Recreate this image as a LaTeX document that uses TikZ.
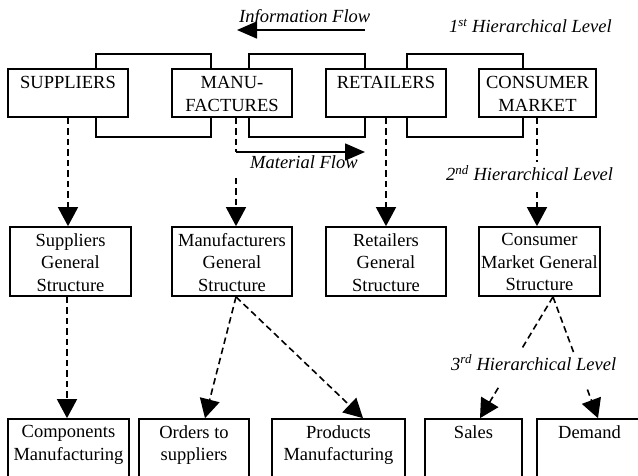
\documentclass[tikz,border=0pt]{standalone}
\usepackage{fontspec}
\setmainfont{Liberation Serif}
\usetikzlibrary{arrows.meta,fit,calc}

\begin{document}
\begin{tikzpicture}[x=1pt,y=-1pt,
  box/.style={draw, line width=1.7pt, fill=white, inner sep=0pt},
  boxtext/.style={anchor=north, align=center, inner sep=0pt,
    font=\fontsize{18.5}{22.5}\selectfont},
  frame/.style={draw, line width=1.7pt},
  lead/.style={line width=1.6pt, dash pattern=on 6.5pt off 4pt},
  tip/.style={-{Triangle[length=19pt,width=20pt]}},
  flow/.style={line width=1.6pt, -{Triangle[length=20pt,width=17pt]}},
  note/.style={anchor=base west, inner sep=0pt,
    font=\fontsize{18.5}{22}\selectfont\itshape}]
\useasboundingbox (0,0) rectangle (638,476);
\clip (0,0) rectangle (638,476);

% links between the first-level blocks
\draw[frame] (96,54) rectangle (211,137);
\draw[frame] (249,54) rectangle (365,137);
\draw[frame] (407,54) rectangle (523,137);

% first hierarchical level
\node[box, fit={(8,69)(128,117)}] (sup) {};
\node[box, fit={(172,69)(292,117)}] (man) {};
\node[box, fit={(326,69)(446,117)}] (ret) {};
\node[box, fit={(479,69)(596,117)}] (con) {};
\node[boxtext] (supT) at ([yshift=-8pt]sup.north) {SUPPLIERS};
\node[boxtext] (manT) at ([yshift=-8pt]man.north) {MANU-\\FACTURES};
\node[boxtext] (retT) at ([yshift=-8pt]ret.north) {RETAILERS};
\node[boxtext] (conT) at ([yshift=-8pt]con.north) {CONSUMER\\MARKET};

% second hierarchical level
\node[box, fit={(10,227)(131,296)}] (sgs) {};
\node[box, fit={(172,227)(292,296)}] (mgs) {};
\node[box, fit={(326,227)(446,296)}] (rgs) {};
\node[box, fit={(479,227)(600,296)}] (cgs) {};
\node[boxtext] (sgsT) at ([yshift=-7pt]sgs.north) {Suppliers\\General\\Structure};
\node[boxtext] (mgsT) at ([yshift=-7pt]mgs.north) {Manufacturers\\General\\Structure};
\node[boxtext] (rgsT) at ([yshift=-7pt]rgs.north) {Retailers\\General\\Structure};
\node[boxtext] (cgsT) at ([yshift=-7pt]cgs.north) {Consumer\\Market General\\Structure};

% third hierarchical level
\node[box, fit={(8,419)(129,485)}] (comp) {};
\node[box, fit={(139,419)(249,485)}] (ord) {};
\node[box, fit={(272,419)(405,485)}] (prod) {};
\node[box, fit={(425,419)(522,485)}] (sales) {};
\node[box, fit={(537,419)(642,485)}] (dem) {};
\node[boxtext] (compT) at ([yshift=-7pt]comp.north) {Components\\Manufacturing};
\node[boxtext] (ordT) at ([yshift=-7pt]ord.north) {Orders to\\suppliers};
\node[boxtext] (prodT) at ([yshift=-7pt]prod.north) {Products\\Manufacturing};
\node[boxtext] (salesT) at ([yshift=-7pt]sales.north) {Sales};
\node[boxtext] (demT) at ([yshift=-7pt]dem.north) {Demand};

% information and material flows
\coordinate (infoS) at (365,30);
\coordinate (infoE) at (237,30);
\draw[flow] (infoS) -- (infoE);
\node[note] (infoL) at (239,23) {Information Flow};

\coordinate (manB) at ([xshift=4pt]man.south);
\coordinate (mfC) at (236,152);
\coordinate (mfE) at (365,152);
\draw[lead] (manB) -- (mfC);
\draw[flow] (mfC) -- (mfE);
\node[note] (mfL) at (250,169) {Material Flow};

% level labels
\node[note] (lev1) at (449,33) {1\textsuperscript{st} Hierarchical Level};
\node[note] (lev2) at (446,181) {2\textsuperscript{nd} Hierarchical Level};
\node[note] (lev3) at (451,370) {3\textsuperscript{rd} Hierarchical Level};

% first to second level
\draw[lead,tip] (sup.south) -- (sup.south |- sgs.north);
\coordinate (mgsIn) at (236,178);
\draw[lead,tip] (mgsIn) -- ([xshift=4pt]mgs.north);
\draw[lead,tip] (ret.south) -- (ret.south |- rgs.north);
\coordinate (conB) at ([xshift=-0.5pt]con.south);
\coordinate (conGap1) at (537,162);
\coordinate (conGap2) at (537,192);
\draw[lead] (conB) -- (conGap1);
\draw[lead,tip] (conGap2) -- (conGap2 |- cgs.north);

% second to third level
\coordinate (sgsB) at ([xshift=-3.5pt]sgs.south);
\draw[lead,tip] (sgsB) -- (sgsB |- comp.north);
\coordinate (mgsB) at ([xshift=4pt]mgs.south);
\draw[lead,tip] (mgsB) -- ([xshift=11pt]ord.north);
\draw[lead,tip] (mgsB) -- ([xshift=24.5pt]prod.north);
\coordinate (cgsB) at ([xshift=13.5pt]cgs.south);
\coordinate (salesIn) at ([xshift=6.5pt]sales.north);
\coordinate (demIn) at ([xshift=8.5pt]dem.north);
\draw[lead] (cgsB) -- ($(cgsB)!0.44!(salesIn)$);
\draw[lead,tip] ($(cgsB)!0.75!(salesIn)$) -- (salesIn);
\draw[lead] (cgsB) -- ($(cgsB)!0.455!(demIn)$);
\draw[lead,tip] ($(cgsB)!0.764!(demIn)$) -- (demIn);
\end{tikzpicture}
\end{document}
